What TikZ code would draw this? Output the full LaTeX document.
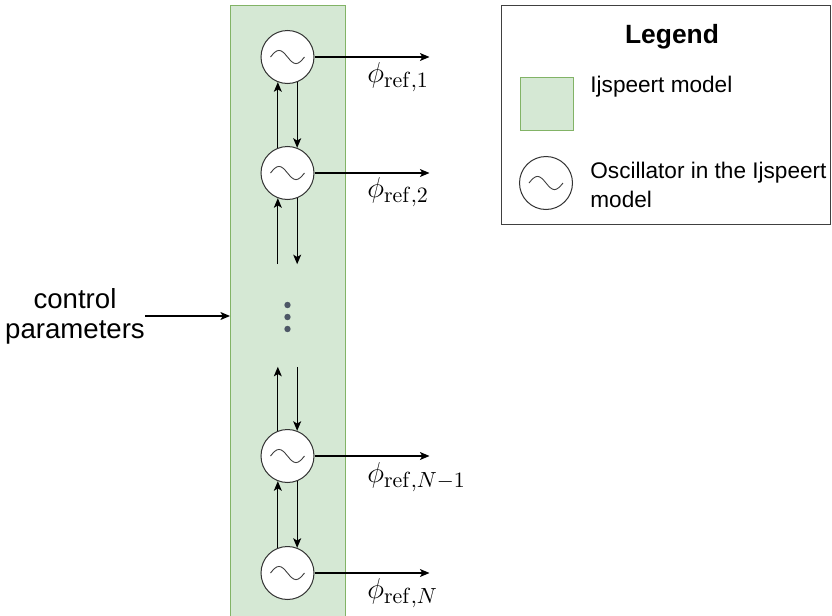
\documentclass[tikz,border=0pt]{standalone}
\usepackage[no-math]{fontspec}
\setmainfont{Liberation Sans}
\usetikzlibrary{arrows.meta,positioning,calc}
\definecolor{ijsgreen}{HTML}{D5E8D4}
\definecolor{ijsedge}{HTML}{82B366}
\definecolor{dotgray}{HTML}{4D5766}
\tikzset{
  ijsbox/.style={draw=ijsedge, fill=ijsgreen, line width=0.5pt, inner sep=0pt},
  oscnode/.style={circle, draw=black!80, fill=white, line width=0.5pt, minimum size=26.5pt, inner sep=0pt,
    path picture={\draw[line width=0.45pt, black!75] ([xshift=-8.5pt]path picture bounding box.center)
      sin ++(4.25pt,3.3pt) cos ++(4.25pt,-3.3pt) sin ++(4.25pt,-3.3pt) cos ++(4.25pt,3.3pt);}},
  flowarrow/.style={-{Stealth[length=4.8pt,width=4pt,inset=1.2pt]}, line width=0.55pt},
  reflabel/.style={anchor=north west, inner sep=0pt, font=\fontsize{15.8}{18}\selectfont},
  legendbox/.style={draw=black!75, line width=0.5pt, inner sep=0pt},
  legendtext/.style={anchor=west, inner sep=0pt, align=left, font=\fontsize{11.3}{14.5}\selectfont}
}

\begin{document}
\begin{tikzpicture}[x=0.5pt, y=-0.5pt, node distance=31pt]
\useasboundingbox (0,0) rectangle (832,616);
\clip (0,0) rectangle (832,616);

% Ijspeert model block, runs on past the lower edge
\node[ijsbox, anchor=north west, minimum width=57.5pt, minimum height=330pt] (model) at (230,5) {};

% oscillator chain
\node[oscnode] (osc1) at (287.5,57) {};
\node[oscnode, below=of osc1] (osc2) {};
\node[oscnode] (oscNm) at (287.5,456) {};
\node[oscnode, below=31.5pt of oscNm] (oscN) {};

% couplings between neighbours
\draw[flowarrow] (osc2.111) -- (osc1.-111);
\draw[flowarrow] (osc1.-69) -- (osc2.69);
\draw[flowarrow] (oscN.111) -- (oscNm.-111);
\draw[flowarrow] (oscNm.-69) -- (oscN.69);

% open ends next to the dots
\coordinate (gapUL) at ([yshift=-33pt]osc2.-111);
\coordinate (gapUR) at ([yshift=-33pt]osc2.-69);
\coordinate (gapLL) at ([yshift=32pt]oscNm.111);
\coordinate (gapLR) at ([yshift=32pt]oscNm.69);
\draw[flowarrow] (gapUL) -- (osc2.-111);
\draw[flowarrow] (osc2.-69) -- (gapUR);
\draw[flowarrow] (oscNm.111) -- (gapLL);
\draw[flowarrow] (gapLR) -- (oscNm.69);

\foreach \y in {305,317,329}
  \fill[dotgray] (287.5,\y) circle (1.6pt);

% phase outputs
\foreach \o in {osc1,osc2,oscNm,oscN} {
  \coordinate[right=57.5pt of \o] (\o-out);
  \draw[flowarrow] (\o.east) -- (\o-out);
}
\node[reflabel] (ref1) at (367,62) {$\phi_{\mathrm{ref},1}$};
\node[reflabel] (ref2) at (367,177) {$\phi_{\mathrm{ref},2}$};
\node[reflabel] (refNm) at (367,462) {$\phi_{\mathrm{ref},N-1}$};
\node[reflabel] (refN) at (367,578) {$\phi_{\mathrm{ref},N}$};

% input
\node[font=\fontsize{13.8}{15}\selectfont, align=center, inner sep=0pt] (ctrl) at (75,316) {control\\parameters};
\draw[flowarrow] (ctrl.east) -- (ctrl.east -| model.west);

% legend
\node[legendbox, anchor=north west, minimum width=164.5pt, minimum height=109.5pt] (legend) at (501,5) {};
\node[font=\fontsize{13.2}{16}\selectfont\bfseries] (legtitle) at (672,37) {Legend};
\node[ijsbox, minimum size=26.5pt] (keymodel) at (546.5,104) {};
\node[legendtext] (keymodeltxt) at (590,87) {Ijspeert model};
\node[oscnode] (keyosc) at (546,183) {};
\node[legendtext, anchor=north west] (keyosctxt) at (590,162) {Oscillator in the Ijspeert\\model};
\end{tikzpicture}
\end{document}
